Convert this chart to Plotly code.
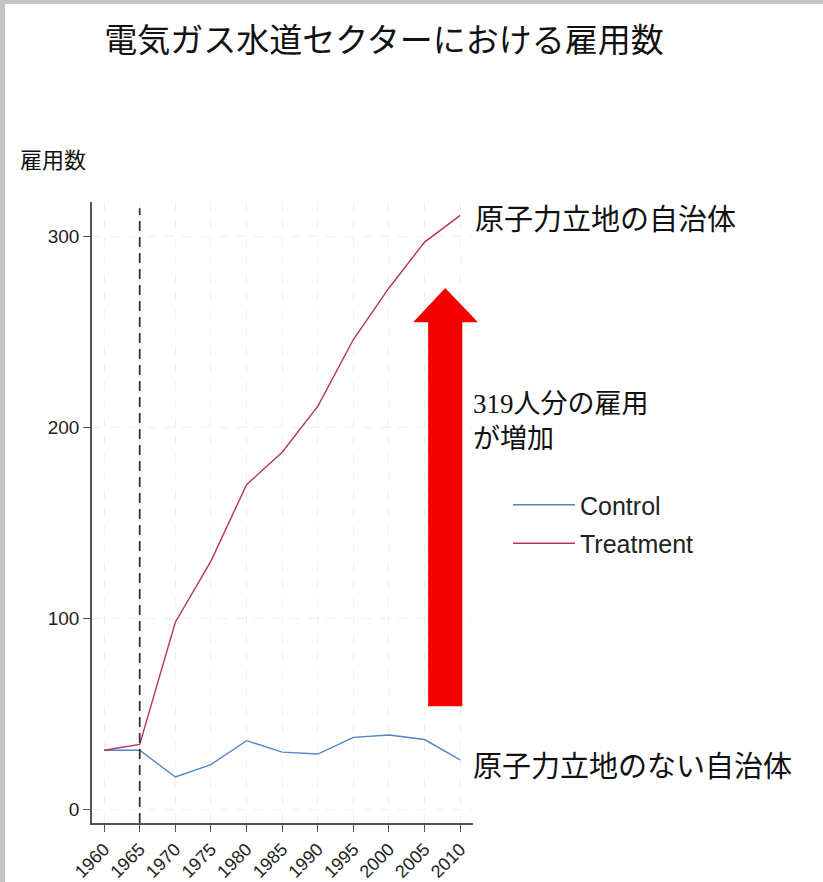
import plotly.graph_objects as go

# ---- data ----
years = [1960, 1965, 1970, 1975, 1980, 1985, 1990, 1995, 2000, 2005, 2010]
control = [31, 31, 17, 23.5, 36, 30, 29, 37.7, 39, 36.6, 26]
treatment = [31, 34, 98, 130, 170, 187, 211, 246, 273, 297, 311]
x_ticks = [1960, 1965, 1970, 1975, 1980, 1985, 1990, 1995, 2000, 2005, 2010]
y_ticks = [0, 100, 200, 300]
treat_year = 1965

title_text = "電気ガス水道セクターにおける雇用数"
ytitle_text = "雇用数"
label_treat = "原子力立地の自治体"
label_ctrl = "原子力立地のない自治体"
arrow_text = "319人分の雇用<br>が増加"

# ---- layout geometry ----
W, H = 823, 882
ML, MR, MT, MB = 92, 350, 202, 59
PW, PH = W - ML - MR, H - MT - MB
XR = [1958.3, 2011.8]
YR = [-7.1, 318]

def dx(v):  # data x -> paper
    return (v - XR[0]) / (XR[1] - XR[0])

def dy(v):  # data y -> paper
    return (v - YR[0]) / (YR[1] - YR[0])

def px(p):  # pixel x -> paper
    return (p - ML) / PW

def py(p):  # pixel y -> paper
    return (H - MB - p) / PH

CJK = "Noto Sans CJK JP"
SANS = "Liberation Sans, Arial, sans-serif"

fig = go.Figure()
fig.add_trace(go.Scatter(x=years, y=control, mode="lines", name="Control",
                         legendgroup="c",
                         line=dict(color="#4f86c6", width=1.4)))
fig.add_trace(go.Scatter(x=years, y=treatment, mode="lines", name="Treatment",
                         legendgroup="t",
                         line=dict(color="#b8325e", width=1.4)))

# arrow (annotation graphic) in data units, drawn in paper space
ax0, ax1, hx0, hx1, tipx = 2005.5, 2010.3, 2003.4, 2012.5, 2007.9
ay0, hy, tipy = 54, 255, 273
path = (f"M{dx(ax0)},{dy(ay0)} L{dx(ax1)},{dy(ay0)} L{dx(ax1)},{dy(hy)} "
        f"L{dx(hx1)},{dy(hy)} L{dx(tipx)},{dy(tipy)} L{dx(hx0)},{dy(hy)} "
        f"L{dx(ax0)},{dy(hy)} Z")

shapes = [
    dict(type="path", xref="paper", yref="paper", path=path,
         fillcolor="#f20000", line=dict(width=0), layer="above"),
    dict(type="line", xref="x", yref="paper", x0=treat_year, x1=treat_year,
         y0=0, y1=0.99, line=dict(color="#333333", width=1.8, dash="10px,6px")),
    # light gray frame (top and left)
    dict(type="rect", xref="paper", yref="paper", x0=px(0), x1=px(W), y0=py(4), y1=py(0),
         fillcolor="#c4c4c4", line=dict(width=0), layer="above"),
    dict(type="rect", xref="paper", yref="paper", x0=px(0), x1=px(5), y0=py(H), y1=py(0),
         fillcolor="#c4c4c4", line=dict(width=0), layer="above"),
]

annotations = [
    dict(text=ytitle_text, xref="paper", yref="paper", x=px(18), y=py(158),
         xanchor="left", yanchor="middle", showarrow=False,
         font=dict(family=CJK, size=22, color="#111")),
    dict(text=label_treat, xref="x", yref="y", x=years[-1], y=treatment[-1],
         xanchor="left", yanchor="middle", xshift=13, yshift=-2, showarrow=False,
         font=dict(family=CJK, size=29, color="#111")),
    dict(text=label_ctrl, xref="x", yref="y", x=years[-1], y=control[-1],
         xanchor="left", yanchor="middle", xshift=11, yshift=-4, showarrow=False,
         font=dict(family=CJK, size=29, color="#111")),
    dict(text=arrow_text, xref="paper", yref="paper", x=px(471), y=py(421),
         xanchor="left", yanchor="middle", align="left", showarrow=False,
         font=dict(family="Liberation Serif, " + CJK, size=27, color="#111")),
]

fig.update_layout(
    width=W, height=H, autosize=False,
    margin=dict(l=ML, r=MR, t=MT, b=MB, pad=0, autoexpand=False),
    paper_bgcolor="white", plot_bgcolor="white",
    title=dict(text=title_text, x=384 / W, xanchor="center", y=1 - 40 / H, yanchor="middle",
               font=dict(family=CJK, size=33, color="#111")),
    xaxis=dict(range=XR, tickvals=x_ticks, ticktext=[str(v) for v in x_ticks],
               tickangle=-45, ticks="outside", ticklen=7, tickcolor="#555",
               showline=True, linecolor="#555", linewidth=1.5, mirror=False,
               showgrid=True, gridcolor="#efefef", griddash="dash", gridwidth=1,
               zeroline=False, automargin=False,
               tickfont=dict(family=SANS, size=18, color="#222")),
    yaxis=dict(range=YR, tickvals=y_ticks, ticks="outside", ticklen=7, tickcolor="#555",
               showline=True, linecolor="#555", linewidth=1.5,
               showgrid=True, gridcolor="#efefef", griddash="dash", gridwidth=1,
               zeroline=False, automargin=False,
               tickfont=dict(family=SANS, size=19, color="#222")),
    legend=dict(x=px(508), y=py(524), xanchor="left", yanchor="middle",
                font=dict(family=SANS, size=25, color="#222"),
                traceorder="grouped", tracegroupgap=3,
                itemwidth=62, bgcolor="rgba(0,0,0,0)"),
    shapes=shapes, annotations=annotations,
)

fig.write_html("out.html")
